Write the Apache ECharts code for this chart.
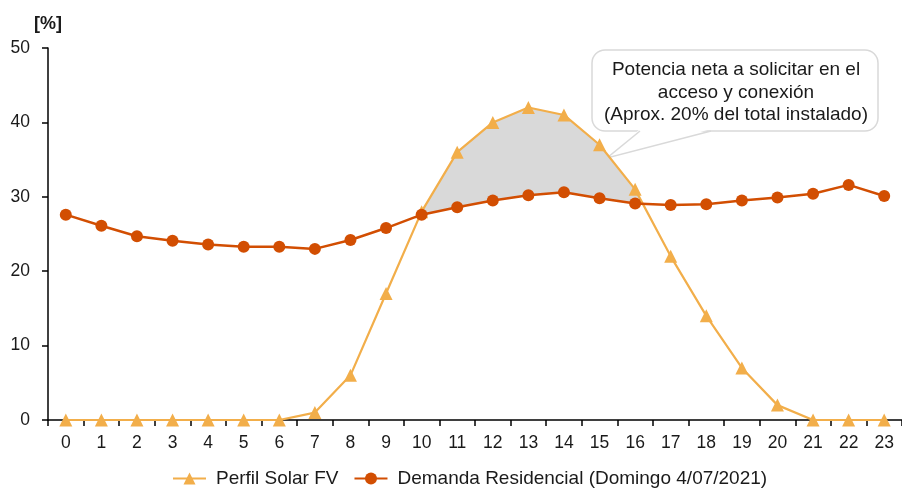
<!DOCTYPE html>
<html>
<head>
<meta charset="utf-8">
<script src="https://cdn.jsdelivr.net/npm/echarts@6/dist/echarts.min.js"></script>
<style>
  html, body { margin: 0; padding: 0; background: #fff; }
  #chart { width: 902px; height: 488px; }
</style>
</head>
<body>
<div id="chart"></div>
<script>
// Hours of the day
const hours = ['0','1','2','3','4','5','6','7','8','9','10','11','12','13','14','15','16','17','18','19','20','21','22','23'];
// Solar PV profile [%]
const solarPV = [0, 0, 0, 0, 0, 0, 0, 1, 6, 17, 28, 36, 40, 42, 41, 37, 31, 22, 14, 7, 2, 0, 0, 0];
// Residential demand, Sunday 4/07/2021 [%]
const demand = [27.6, 26.1, 24.7, 24.1, 23.6, 23.3, 23.3, 23.0, 24.2, 25.8, 27.6, 28.6, 29.5, 30.2, 30.6, 29.8, 29.1, 28.9, 29.0, 29.5, 29.9, 30.4, 31.6, 30.1];
const yTicks = { min: 0, max: 50, interval: 10 };

const FONT = '"Liberation Sans", Arial, sans-serif';
const SOLAR_COLOR = '#F2AE4A';
const DEMAND_COLOR = '#D24E02';

// Region where solar output exceeds demand, bounded by the two polylines
function renderSurplus(params, api) {
  const n = solarPV.length;
  const upper = [], lower = [];
  const lerp = (a, b, t) => [a[0] + (b[0] - a[0]) * t, a[1] + (b[1] - a[1]) * t];
  for (let i = 0; i < n; i++) {
    const di = solarPV[i] - demand[i];
    if (di > 0) {
      upper.push(api.coord([i, solarPV[i]]));
      lower.push(api.coord([i, demand[i]]));
    }
    if (i < n - 1) {
      const dj = solarPV[i + 1] - demand[i + 1];
      if ((di > 0) !== (dj > 0)) {
        const t = di / (di - dj);
        const c = lerp(api.coord([i, solarPV[i]]), api.coord([i + 1, solarPV[i + 1]]), t);
        upper.push(c);
        lower.push(c);
      }
    }
  }
  if (!upper.length) return;
  const pts = upper.concat(lower.slice().reverse());
  return {
    type: 'polygon',
    shape: { points: pts },
    style: { fill: '#D9D9D9', stroke: 'none' },
    silent: true
  };
}

const chart = echarts.init(document.getElementById('chart'), null, { renderer: 'canvas' });

// Callout box geometry
const boxX = 592, boxY = 50, boxW = 286, boxH = 81;
const tailL = 640, tailR = 711, tailTip = [607, 158];

chart.setOption({
  animation: false,
  textStyle: { fontFamily: FONT },
  grid: { left: 48, right: -4, top: 48, bottom: 68, containLabel: false },
  legend: {
    top: 464,
    left: 167,
    itemWidth: 33,
    itemHeight: 15,
    itemGap: 15,
    textStyle: { fontFamily: FONT, fontSize: 19, color: '#1a1a1a', padding: [0, 0, 0, 5] },
    data: ['Perfil Solar FV', 'Demanda Residencial (Domingo 4/07/2021)']
  },
  xAxis: {
    type: 'category',
    data: hours,
    boundaryGap: true,
    axisLine: { show: true, lineStyle: { color: '#000', width: 1.5 } },
    axisTick: { show: true, length: 6, lineStyle: { color: '#000', width: 1.5 } },
    axisLabel: { fontFamily: FONT, fontSize: 17.5, color: '#1a1a1a', margin: 14 },
    splitLine: { show: false }
  },
  yAxis: {
    type: 'value',
    min: yTicks.min,
    max: yTicks.max,
    interval: yTicks.interval,
    name: '[%]',
    nameLocation: 'end',
    nameGap: 15,
    nameTextStyle: { fontFamily: FONT, fontSize: 18, fontWeight: 'bold', color: '#1a1a1a' },
    axisLine: { show: true, lineStyle: { color: '#000', width: 1.5 } },
    axisTick: { show: true, length: 6, lineStyle: { color: '#000', width: 1.5 } },
    axisLabel: { fontFamily: FONT, fontSize: 17.5, color: '#1a1a1a', margin: 18 },
    splitLine: { show: false }
  },
  series: [
    {
      type: 'custom',
      name: 'surplus',
      renderItem: renderSurplus,
      data: [[0, 0]],
      z: 1,
      silent: true,
      tooltip: { show: false }
    },
    {
      type: 'line',
      name: 'Perfil Solar FV',
      data: solarPV,
      symbol: 'triangle',
      symbolSize: 13,
      lineStyle: { color: SOLAR_COLOR, width: 2.2 },
      itemStyle: { color: SOLAR_COLOR },
      z: 3
    },
    {
      type: 'line',
      name: 'Demanda Residencial (Domingo 4/07/2021)',
      data: demand,
      symbol: 'circle',
      symbolSize: 12,
      lineStyle: { color: DEMAND_COLOR, width: 2.5 },
      itemStyle: { color: DEMAND_COLOR },
      z: 4
    }
  ],
  graphic: [
    {
      type: 'group',
      z: 100,
      children: [
        {
          type: 'rect',
          shape: { x: boxX, y: boxY, width: boxW, height: boxH, r: 13 },
          style: { fill: '#fff', stroke: '#D9D9D9', lineWidth: 1.5 }
        },
        {
          type: 'polygon',
          shape: { points: [[tailL, boxY + boxH - 2], [tailR, boxY + boxH - 2], tailTip] },
          style: { fill: '#fff', stroke: 'none' }
        },
        {
          type: 'polyline',
          shape: { points: [[tailL, boxY + boxH], tailTip, [tailR, boxY + boxH]] },
          style: { fill: 'none', stroke: '#D9D9D9', lineWidth: 1.5 }
        },
        {
          type: 'text',
          x: boxX + boxW / 2 + 1,
          y: boxY + boxH / 2 + 2,
          style: {
            text: 'Potencia neta a solicitar en el\nacceso y conexión\n(Aprox. 20% del total instalado)',
            fontFamily: FONT,
            fontSize: 19,
            lineHeight: 22.5,
            fill: '#1a1a1a',
            align: 'center',
            verticalAlign: 'middle'
          }
        }
      ]
    }
  ]
});
</script>
</body>
</html>
